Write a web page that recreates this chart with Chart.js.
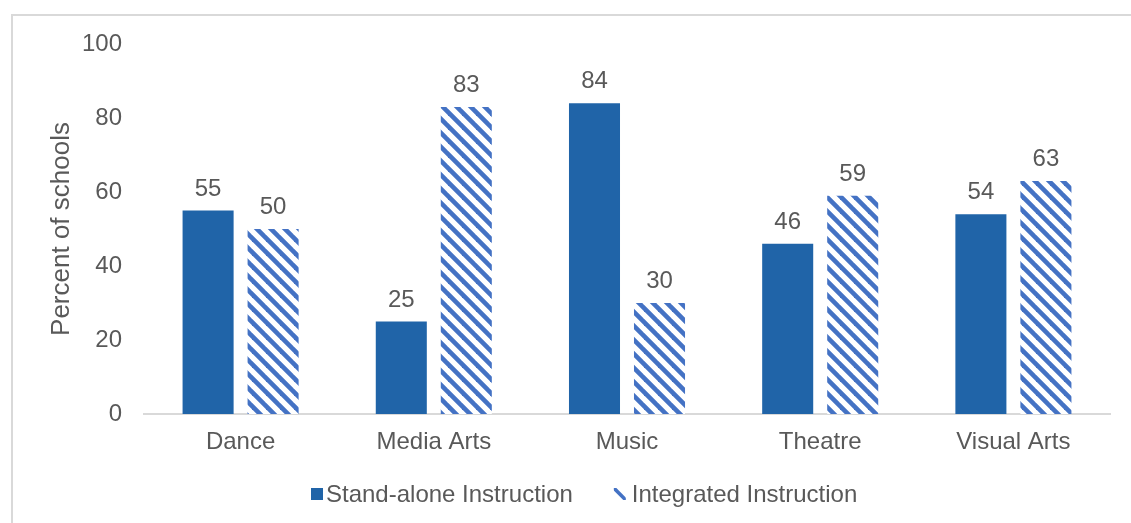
<!DOCTYPE html>
<html>
<head>
<meta charset="utf-8">
<script src="https://cdn.jsdelivr.net/npm/chart.js@4/dist/chart.umd.min.js"></script>
<style>
  html, body { margin: 0; padding: 0; background: #ffffff; }
  #wrap { position: relative; width: 1131px; height: 523px; }
</style>
</head>
<body>
<div id="wrap"><canvas id="chart" width="1131" height="523"></canvas></div>
<script>
// Arts instruction offered, by discipline
const categories = ['Dance', 'Media Arts', 'Music', 'Theatre', 'Visual Arts'];
const standAlone = [55, 25, 84, 46, 54];
const integrated = [50, 83, 30, 59, 63];
const seriesNames = ['Stand-alone Instruction', 'Integrated Instruction'];
const yTicks = [0, 20, 40, 60, 80, 100];

const TEXT = '#595959';
const FONT = "'Liberation Sans', Arial, sans-serif";
const SIZE = 24;
const SOLID = '#2064A8';
const HATCH = '#4472C4';

// Downward diagonal hatch used for the integrated series
function makeHatch(size, width, color) {
  const c = document.createElement('canvas');
  c.width = size; c.height = size;
  const g = c.getContext('2d');
  g.fillStyle = '#ffffff';
  g.fillRect(0, 0, size, size);
  g.strokeStyle = color;
  g.lineWidth = width;
  for (let k = -1; k <= 1; k++) {
    g.beginPath();
    g.moveTo(k * size - 2, -2);
    g.lineTo(k * size + size + 2, size + 2);
    g.stroke();
  }
  return g.createPattern(c, 'repeat');
}
const ctx = document.getElementById('chart').getContext('2d');
const hatch = makeHatch(14, 4.6, HATCH);

// Light frame around the chart
const framePlugin = {
  id: 'frame',
  beforeDraw(chart) {
    const g = chart.ctx;
    g.save();
    g.fillStyle = '#ffffff';
    g.fillRect(0, 0, chart.width, chart.height);
    g.strokeStyle = '#d9d9d9';
    g.lineWidth = 2;
    g.strokeRect(12, 15, chart.width + 20, chart.height + 20);
    g.restore();
  }
};

// Value labels above each bar
const valueLabels = {
  id: 'valueLabels',
  afterDatasetsDraw(chart) {
    const g = chart.ctx;
    g.save();
    g.font = SIZE + 'px ' + FONT;
    g.fillStyle = TEXT;
    g.textAlign = 'center';
    g.textBaseline = 'alphabetic';
    chart.data.datasets.forEach((ds, i) => {
      chart.getDatasetMeta(i).data.forEach((bar, j) => {
        g.fillText(String(ds.data[j]), bar.x, bar.y - 15);
      });
    });
    g.restore();
  }
};

// Compact legend row beneath the category labels
const legendRow = {
  id: 'legendRow',
  afterDraw(chart) {
    const g = chart.ctx;
    g.save();
    g.font = SIZE + 'px ' + FONT;
    g.textBaseline = 'middle';
    g.textAlign = 'left';
    const cy = 494;
    const box = 12;
    let x = 311;
    // solid series key
    g.fillStyle = SOLID;
    g.fillRect(x, cy - box / 2, box, box);
    x += box + 3;
    g.fillStyle = TEXT;
    g.fillText(seriesNames[0], x, cy + 1);
    x += g.measureText(seriesNames[0]).width + 41;
    // hatched series key: a single diagonal stroke
    g.save();
    g.beginPath();
    g.rect(x, cy - box / 2, box, box);
    g.clip();
    g.strokeStyle = HATCH;
    g.lineWidth = 3.6;
    g.beginPath();
    g.moveTo(x - 1, cy - box / 2 - 1);
    g.lineTo(x + box + 1, cy + box / 2 + 1);
    g.stroke();
    g.restore();
    x += box + 6;
    g.fillStyle = TEXT;
    g.fillText(seriesNames[1], x, cy + 1);
    g.restore();
  }
};

new Chart(ctx, {
  type: 'bar',
  data: {
    labels: categories,
    datasets: [
      { label: seriesNames[0], data: standAlone, backgroundColor: SOLID, borderWidth: 0 },
      { label: seriesNames[1], data: integrated, backgroundColor: hatch, borderWidth: 0 }
    ]
  },
  options: {
    responsive: false,
    animation: false,
    devicePixelRatio: 1,
    categoryPercentage: 0.673,
    barPercentage: 0.785,
    layout: { padding: { left: 0, right: 21, top: 44, bottom: 69 } },
    plugins: {
      tooltip: { enabled: false },
      legend: { display: false }
    },
    scales: {
      x: {
        afterFit(scale) { scale.height = 40; },
        grid: { display: false, drawTicks: false },
        border: { display: true, color: '#d9d9d9', width: 2 },
        ticks: { color: TEXT, font: { family: FONT, size: SIZE }, padding: 14 }
      },
      y: {
        min: 0,
        max: 100,
        afterFit(scale) { scale.width = 144; },
        afterBuildTicks(scale) { scale.ticks = yTicks.map(v => ({ value: v })); },
        grid: { display: false, drawTicks: false },
        border: { display: false },
        ticks: { color: TEXT, font: { family: FONT, size: SIZE }, padding: 22 },
        title: {
          display: true,
          text: 'Percent of schools',
          color: TEXT,
          font: { family: FONT, size: 26 },
          padding: { top: 46, bottom: 0 }
        }
      }
    }
  },
  plugins: [framePlugin, valueLabels, legendRow]
});
</script>
</body>
</html>
